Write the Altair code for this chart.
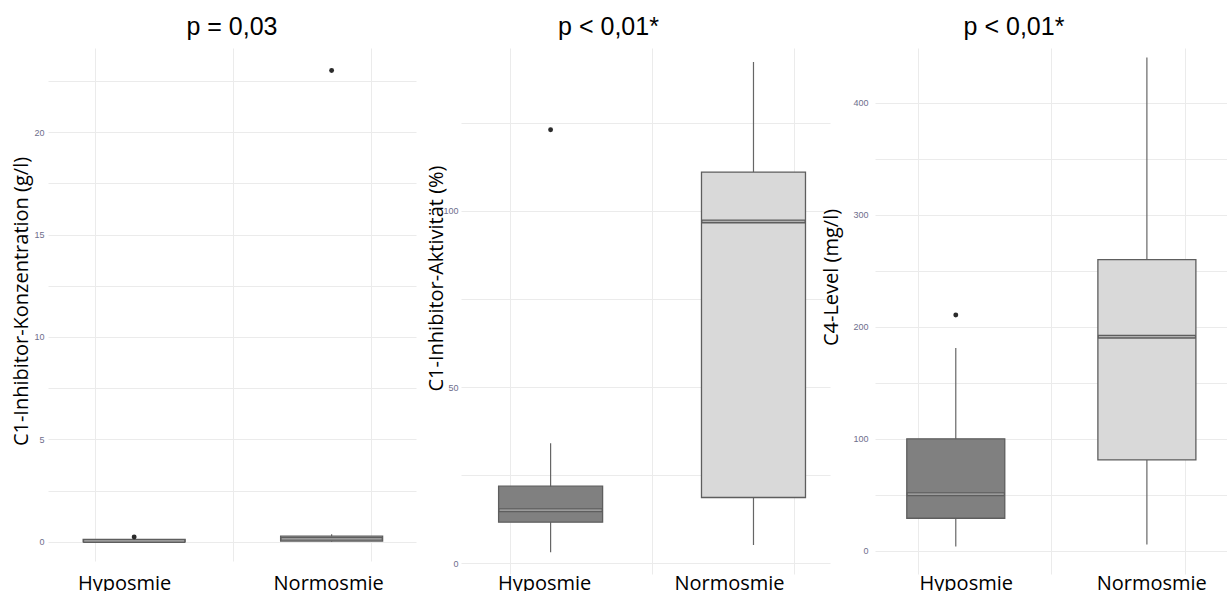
import altair as alt
import pandas as pd

groups = ["Hyposmie", "Normosmie"]

# Panel 1: C1-Inhibitor-Konzentration (g/l)
konz_low = [0.0, 0.01]
konz_q1 = [0.01, 0.04]
konz_med = [0.05, 0.15]
konz_q3 = [0.12, 0.28]
konz_high = [0.15, 0.38]
konz_out_group = ["Hyposmie", "Normosmie"]
konz_out_val = [0.24, 23.0]

# Panel 2: C1-Inhibitor-Aktivität (%)
akt_low = [3.2, 5.2]
akt_q1 = [11.7, 18.7]
akt_med = [15.1, 97.0]
akt_q3 = [21.9, 111.0]
akt_high = [34.1, 142.2]
akt_out_group = ["Hyposmie"]
akt_out_val = [123.0]

# Panel 3: C4-Level (mg/l)
c4_low = [3.7, 5.4]
c4_q1 = [28.9, 81.0]
c4_med = [50.4, 191.0]
c4_q3 = [99.8, 259.9]
c4_high = [180.9, 440.3]
c4_out_group = ["Hyposmie"]
c4_out_val = [210.4]

panel_titles = ["p = 0,03", "p < 0,01*", "p < 0,01*"]
y_titles = ["C1-Inhibitor-Konzentration (g/l)", "C1-Inhibitor-Aktivität (%)", "C4-Level (mg/l)"]

GRID = "#ebebeb"
FILLS = ["#808080", "#d9d9d9"]


def panel(low, q1, med, q3, high, out_g, out_v, title, ytitle, *, width, height,
          xdom, ydom, grid_step, label_step, box_px, title_dx, title_x, title_y,
          lab_offsets, lab_pad, ylab_pad):
    pos = {g: i + 1 for i, g in enumerate(groups)}
    df = pd.DataFrame({
        "group": groups, "pos": [pos[g] for g in groups],
        "low": low, "q1": q1, "med": med, "q3": q3, "high": high,
    })
    out = pd.DataFrame({"group": out_g, "pos": [pos[g] for g in out_g], "value": out_v})

    gvals = []
    k = 0
    while k * grid_step <= ydom[1]:
        gvals.append(k * grid_step)
        k += 1

    lab_expr = (f"datum.value == 1 ? '{groups[0]}' : "
                f"datum.value == 2 ? '{groups[1]}' : ''")
    x_axis = alt.Axis(
        values=[0.8, 1, 1.5, 2, 2.2], labelExpr=lab_expr, title=None,
        grid=True, gridColor=GRID, gridWidth=1,
        gridOpacity=alt.ExprRef(expr="datum.value == 1 || datum.value == 2 ? 0 : 1"),
        labelOffset=alt.ExprRef(expr=f"datum.value == 1 ? {lab_offsets[0]} : {lab_offsets[1]}"),
        domain=False, ticks=False, labelAngle=0, labelFont="Open Sans",
        labelFontSize=20, labelColor="black", labelPadding=lab_pad,
        labelOverlap=False, labelFlush=False,
    )
    xscale = alt.Scale(domain=xdom, nice=False, zero=False)
    yscale = alt.Scale(domain=ydom, nice=False, zero=False)
    y_axis = alt.Axis(
        values=gvals, labelExpr=f"datum.value % {label_step} == 0 ? datum.label : ''",
        title=ytitle, titleFont="Open Sans", titleFontSize=20, titleFontWeight="normal",
        titleColor="black", titleAngle=270, titleX=title_x, titleY=title_y,
        titleBaseline="middle", titleAlign="center",
        grid=True, gridColor=GRID, gridWidth=1, domain=False, ticks=False,
        labelFont="Liberation Sans", labelFontSize=9, labelColor="#6e6e8c",
        labelPadding=ylab_pad, labelOverlap=False,
    )
    base = alt.Chart(df)
    whisk = base.mark_rule(color="#666666", strokeWidth=1.2).encode(
        x=alt.X("pos:Q", scale=xscale, axis=x_axis),
        y=alt.Y("low:Q", scale=yscale, axis=y_axis),
        y2="high:Q",
    )
    box = base.mark_bar(size=box_px, stroke="#5e5e5e", strokeWidth=1.3).encode(
        x="pos:Q", y="q1:Q", y2="q3:Q",
        color=alt.Color("group:N", scale=alt.Scale(domain=groups, range=FILLS), legend=None),
    )
    median = base.mark_tick(orient="horizontal", size=box_px, thickness=4,
                            color="#5e5e5e", opacity=1).encode(x="pos:Q", y="med:Q")
    median2 = base.mark_tick(orient="horizontal", size=box_px - 2, thickness=1.2,
                             color="#b0b0b0", opacity=1).encode(x="pos:Q", y="med:Q")
    pts = alt.Chart(out).mark_circle(size=24, color="#2b2b2b", opacity=1).encode(
        x="pos:Q", y="value:Q")
    return alt.layer(whisk, box, median, median2, pts).properties(
        width=width, height=height,
        title=alt.TitleParams(title, font="Liberation Sans", fontSize=25,
                              fontWeight="normal", color="black", anchor="middle",
                              baseline="alphabetic", offset=-12, dx=title_dx),
    )


p1 = panel(konz_low, konz_q1, konz_med, konz_q3, konz_high, konz_out_group, konz_out_val,
           panel_titles[0], y_titles[0], width=368, height=513,
           xdom=[0.589, 2.402], ydom=[-0.93, 24.1], grid_step=2.5, label_step=5,
           box_px=102, title_dx=0, title_x=-27, title_y=253,
           lab_offsets=[-10, -3.5], lab_pad=12, ylab_pad=4)
p2 = panel(akt_low, akt_q1, akt_med, akt_q3, akt_high, akt_out_group, akt_out_val,
           panel_titles[1], y_titles[1], width=369, height=526,
           xdom=[0.583, 2.3525], ydom=[-3.0, 146.2], grid_step=25, label_step=50,
           box_px=104, title_dx=-37, title_x=-25, title_y=230,
           lab_offsets=[-6.5, -24.5], lab_pad=-1, ylab_pad=3)
p3 = panel(c4_low, c4_q1, c4_med, c4_q3, c4_high, c4_out_group, c4_out_val,
           panel_titles[2], y_titles[2], width=352, height=526,
           xdom=[0.6035, 2.393], ydom=[-20.9, 448.8], grid_step=50, label_step=100,
           box_px=98, title_dx=-37, title_x=-44, title_y=229,
           lab_offsets=[10, 4.3], lab_pad=-1, ylab_pad=7)

chart = alt.hconcat(p1, p2, p3, spacing=45, bounds="flush").properties(
    padding={"left": 10, "top": 15, "right": 0, "bottom": 0},
    background="white",
).configure_view(stroke=None)

chart.save("out.html", embed_options={"renderer": "svg", "actions": False})
